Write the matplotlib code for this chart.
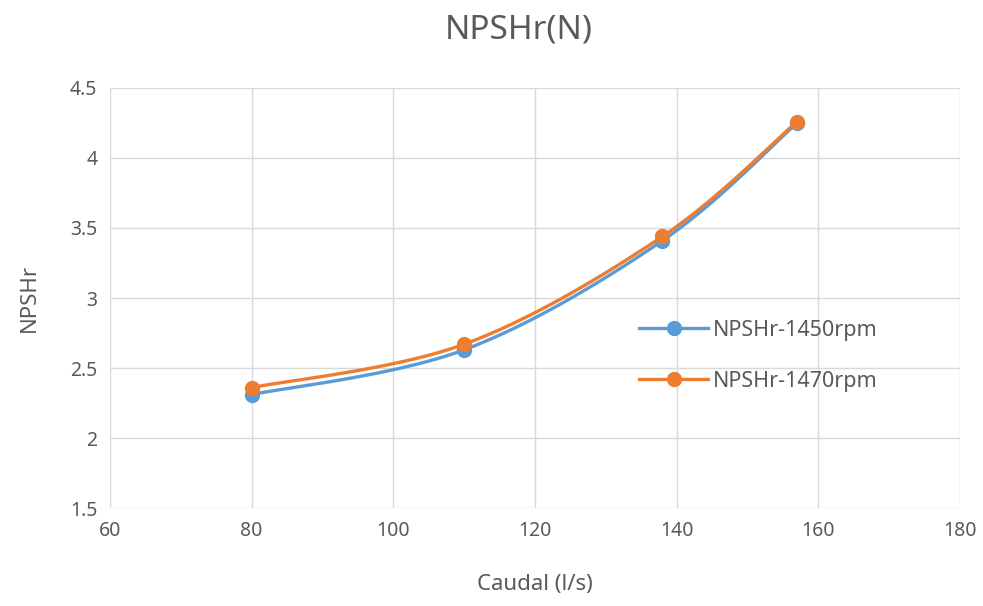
import numpy as np
import matplotlib.pyplot as plt

# flow rate (l/s) and required NPSH for each pump speed
caudal = [80, 110, 138, 157]
npshr_1450 = [2.31, 2.63, 3.41, 4.25]
npshr_1470 = [2.36, 2.67, 3.44, 4.26]

series = [
    ("NPSHr-1450rpm", npshr_1450, "#5B9BD5"),
    ("NPSHr-1470rpm", npshr_1470, "#ED7D31"),
]


def smooth(x, y, n=40):
    # Catmull-Rom curve through the points, like a spreadsheet "smoothed line"
    x = np.asarray(x, float)
    y = np.asarray(y, float)
    px = np.concatenate([[x[0]], x, [x[-1]]])
    py = np.concatenate([[y[0]], y, [y[-1]]])
    xs, ys = [], []
    t = np.linspace(0, 1, n)
    for i in range(1, len(px) - 2):
        p0, p1, p2, p3 = [np.array([px[j], py[j]]) for j in range(i - 1, i + 3)]
        c1 = p1 + (p2 - p0) / 6
        c2 = p2 - (p3 - p1) / 6
        b = ((1 - t) ** 3)[:, None] * p1 + (3 * (1 - t) ** 2 * t)[:, None] * c1 \
            + (3 * (1 - t) * t ** 2)[:, None] * c2 + (t ** 3)[:, None] * p2
        xs.extend(b[:, 0])
        ys.extend(b[:, 1])
    return xs, ys


plt.rcParams['font.family'] = ['Noto Sans', 'DejaVu Sans']
text_col = "#595959"

fig = plt.figure(figsize=(9.83, 6.06), dpi=100)
ax = fig.add_axes([0.1119, 0.1617, 0.8647, 0.6931])

for label, vals, col in series:
    sx, sy = smooth(caudal, vals)
    ax.plot(sx, sy, color=col, lw=2.4, zorder=3)
    ax.plot(caudal, vals, "o", color=col, ms=10, zorder=4)
    ax.plot([], [], "-o", color=col, lw=2.4, ms=10, label=label)

ax.set_xlim(60, 180)
ax.set_ylim(1.5, 4.5)
ax.set_xticks(range(60, 181, 20))
ax.set_yticks(np.arange(1.5, 4.51, 0.5))
ax.set_yticklabels(["1.5", "2", "2.5", "3", "3.5", "4", "4.5"])
ax.grid(True, color="#d9d9d9", lw=1)
ax.set_axisbelow(True)
for s in ax.spines.values():
    s.set_visible(False)
ax.tick_params(length=0, labelsize=14, colors=text_col, pad=9)

ax.set_xlabel("Caudal (l/s)", fontsize=16, color=text_col, labelpad=24)
ax.set_ylabel("NPSHr", fontsize=16, color=text_col, labelpad=22)
fig.text(0.528, 0.95, "NPSHr(N)", fontsize=24, color=text_col,
         ha="center", va="center")

ax.legend(loc="center left", bbox_to_anchor=(0.6, 0.362), frameon=False,
          fontsize=15.5, labelcolor=text_col, handlelength=3.2,
          handletextpad=0.2, labelspacing=1.4)

fig.savefig("out.png", dpi=100)
